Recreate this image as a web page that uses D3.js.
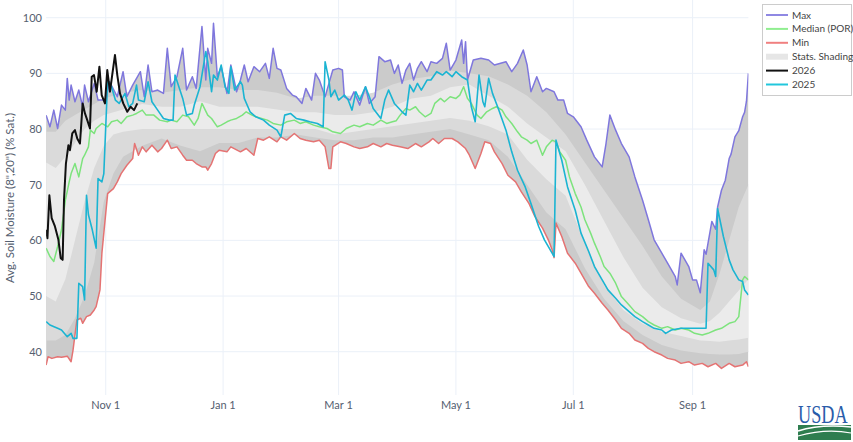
<!DOCTYPE html>
<html>
<head>
<meta charset="utf-8">
<script src="https://cdn.jsdelivr.net/npm/d3@7"></script>
<style>
    body { margin: 0; background: #fff; }
    svg { display: block; font-family: Lato, "Open Sans", sans-serif; }
</style>
</head>
<body>
<script>
// all days count from Oct 1 of the water year (axis drawn on a leap year)
var maxDays = [0,2,4,6,8,10,11,12,13,15,17,19,20,22,25,27,31,33,37,40,42,45,49,51,53,55,58,61,63,65,68,71,73,76,78,81,83,84,86,87,89,91,94,96,99,101,103,105,108,111,114,116,118,120,122,125,128,130,133,135,138,140,142,145,147,149,152,154,155,158,160,163,166,168,171,173,176,179,181,183,185,187,189,191,193,195,198,200,203,206,208,210,213,216,217,218,219,222,226,230,233,239,242,245,248,250,252,255,258,260,264,266,269,271,274,278,281,285,289,291,293,296,299,303,306,310,313,316,320,323,327,328,330,332,334,336,338,340,342,343,346,348,349,351,353,355,356,358,360,362,363,364,365];
var maxVals = [82.5,80.4,83.4,80.1,84.3,83.4,89.1,85.2,87.9,84.9,87.0,84.0,87.9,84.9,88.2,85.2,85.2,88.5,85.8,90.3,85.8,87.9,90.3,85.8,91.5,86.7,87.0,86.4,94.5,87.6,89.4,94.5,87.0,89.4,87.3,98.4,88.8,94.5,91.8,99.0,89.4,91.2,86.4,91.5,86.7,88.8,91.5,88.5,91.2,90.3,91.8,89.1,94.5,90.9,90.6,87.3,86.1,85.8,84.6,87.3,85.2,90.0,88.8,85.8,88.2,90.6,90.9,90.6,85.8,85.2,86.7,84.3,87.6,84.6,85.8,93.0,92.1,92.4,90.0,91.5,88.2,90.6,91.8,88.8,90.9,92.1,90.3,92.1,91.8,92.7,95.4,90.6,92.4,96.0,91.8,95.7,88.8,92.4,92.7,92.4,91.5,92.1,90.3,91.8,94.2,91.5,86.7,89.4,86.7,87.3,86.7,85.2,85.2,82.8,82.2,80.4,78.0,75.0,73.2,77.4,82.5,79.8,77.4,75.0,71.4,67.2,63.7,60.1,57.7,55.9,53.5,52.0,57.7,56.5,55.3,52.9,52.9,50.6,58.3,57.5,63.4,62.0,66.0,69.0,70.8,74.7,75.5,78.6,79.7,82.2,83.0,85.0,90.0];

var minDays = [0,1,3,6,8,11,13,14,16,18,19,21,23,25,26,28,29,31,32,33,35,37,39,42,45,46,48,50,52,55,58,60,63,65,68,71,73,76,78,81,83,84,86,88,90,94,96,101,104,108,110,113,116,120,122,125,129,132,135,139,142,145,147,148,149,153,156,160,163,167,170,174,177,180,184,188,192,195,199,201,204,207,211,214,218,220,223,226,228,231,233,237,240,244,247,251,254,258,261,263,264,265,268,271,275,278,282,285,289,292,296,299,303,306,310,313,316,320,323,327,330,334,337,341,344,348,351,355,358,362,364,365];
var minVals = [37.6,39.1,38.8,39.1,39.0,39.2,38.2,40.3,45.7,46.0,45.1,46.3,46.6,47.5,48.1,51.1,57.7,64.9,68.4,68.7,69.3,70.5,72.0,73.5,74.7,77.4,75.3,76.8,75.9,77.1,75.9,76.5,78.0,76.5,76.8,75.3,74.4,74.4,73.8,73.2,73.2,72.6,73.8,75.6,76.2,75.9,76.8,75.9,76.5,75.3,78.3,78.0,78.6,77.7,78.6,78.0,79.2,78.3,78.0,77.7,78.0,76.8,72.9,72.9,76.8,77.7,77.4,76.8,76.5,76.8,77.4,76.8,77.4,77.1,76.8,76.5,77.4,76.8,77.7,78.3,77.4,78.3,78.3,77.7,76.5,75.3,72.9,75.6,77.7,77.4,75.9,73.8,71.7,70.5,68.7,66.6,64.3,62.2,60.1,58.3,56.9,63.1,60.7,57.7,55.9,54.1,51.7,50.5,48.7,47.5,45.7,44.2,43.3,42.1,41.5,40.6,40.0,39.4,38.8,38.5,37.9,38.2,37.6,37.9,37.3,37.9,37.0,37.9,37.3,37.6,38.2,37.3];

var medDays = [0,2,4,6,8,10,12,13,15,17,19,20,22,23,25,26,29,32,34,37,39,42,45,47,50,52,56,59,63,65,68,71,74,77,79,81,84,86,89,91,94,96,99,102,104,107,109,112,115,118,122,125,129,132,135,139,142,146,149,153,156,160,163,167,170,174,177,180,182,184,187,189,192,194,197,200,202,205,207,210,213,215,217,219,221,224,226,229,232,234,237,239,242,245,247,250,252,255,258,260,263,265,267,270,272,275,278,280,283,285,288,290,293,296,299,303,306,310,313,316,320,323,327,330,334,337,341,344,348,351,355,358,360,362,363,365];
var medVals = [58.6,57.1,56.2,58.9,61.9,67.2,70.5,72.0,73.8,71.4,74.7,75.3,76.8,79.8,79.2,80.1,81.0,80.4,81.3,81.6,81.0,82.2,82.5,82.8,83.4,82.5,82.5,81.6,81.3,81.6,81.3,82.5,82.2,80.7,81.9,84.6,82.5,81.9,80.4,80.7,81.3,81.6,81.9,82.5,83.1,82.5,82.2,81.9,81.6,81.0,80.7,81.3,81.6,81.0,81.3,80.7,80.4,80.1,79.5,79.2,80.1,80.7,80.4,81.0,80.7,81.6,81.0,81.3,81.5,82.5,83.7,83.4,84.0,83.1,82.2,82.8,84.6,85.5,84.9,85.8,85.5,86.1,87.6,85.5,84.6,82.5,81.9,83.1,83.7,84.0,83.4,82.2,81.0,79.5,78.6,78.0,77.4,78.0,75.3,76.8,78.0,77.7,75.9,74.4,71.4,68.4,66.0,63.7,61.3,59.5,57.1,55.3,54.1,52.3,49.9,48.4,47.2,46.3,45.4,44.8,44.2,44.5,43.9,44.2,43.9,43.3,43.0,43.3,43.9,44.2,45.1,45.4,46.3,52.9,53.5,52.9];

var y2025Days = [0,2,6,8,11,13,14,16,17,19,20,21,22,24,26,27,29,30,32,34,36,38,41,43,45,47,48,51,53,55,58,61,64,66,67,69,71,73,76,77,80,83,84,86,87,89,91,93,95,96,98,101,102,103,106,109,113,116,120,122,124,127,130,134,137,141,144,145,147,148,150,152,155,157,159,161,163,166,168,170,174,176,178,181,185,187,189,191,193,195,198,200,203,206,208,211,213,216,219,221,223,225,227,228,230,232,235,239,242,245,249,252,256,259,264,265,268,271,275,278,282,285,289,292,296,299,303,306,310,313,316,320,322,325,330,336,343,344,347,348,349,352,355,357,360,362,363,365];
var y2025Vals = [45.4,44.8,44.2,43.9,42.7,43.3,42.4,42.4,52.3,51.7,49.3,68.1,64.6,61.9,58.6,71.1,70.5,72.0,88.8,87.6,85.2,84.6,86.4,84.0,84.6,87.9,85.2,84.9,88.5,84.9,83.4,81.9,81.6,81.6,89.7,87.6,85.5,82.5,82.8,84.3,87.6,93.9,92.1,86.7,89.7,88.8,91.5,87.6,86.4,91.2,87.0,88.5,87.9,85.5,83.1,82.2,81.6,80.7,79.8,78.6,82.5,82.8,81.9,81.6,81.3,81.0,80.4,92.1,88.8,85.8,87.0,85.2,86.1,85.2,83.4,86.7,85.2,87.6,85.8,83.7,81.9,85.2,87.0,84.6,83.1,82.5,87.9,86.7,88.2,87.0,88.8,88.8,90.3,89.7,90.3,89.4,90.3,89.4,88.8,84.0,81.3,89.7,84.9,84.0,89.1,86.4,83.7,79.8,75.9,72.6,69.6,66.6,62.5,60.1,57.1,78.0,74.4,69.6,65.4,61.3,58.0,55.3,52.9,51.1,49.6,48.4,47.2,46.3,45.4,44.8,44.2,43.9,43.3,43.9,44.2,44.2,44.2,55.9,54.7,53.5,65.7,60.7,56.5,54.7,52.9,52.6,51.1,50.2];

var y2026Days = [0,0.7,1.7,2.9,4.6,6.4,7.6,8.6,9.3,10.3,11.6,12.4,13.6,15,16.2,17.6,19,20.2,21.4,22.8,23.7,24.9,26.3,27.7,28.9,30.6,31.8,33.2,34.6,35.8,37,38.4,40.1,42.2,43.9,45.7,47.4];
var y2026Vals = [61.9,60.4,68.1,64.0,62.5,60.1,56.8,56.5,67.2,73.8,77.1,76.2,79.2,79.8,78.3,77.4,84.6,82.8,81.6,80.1,89.4,89.7,86.7,91.2,86.1,84.6,90.6,86.7,90.3,93.3,89.7,86.4,84.6,83.1,84.0,83.4,84.6];

// percentile shading boundaries
var bandDays = [0,5,10,15,20,25,30,35,40,50,60,70,80,90,100,110,120,130,140,150,160,170,180,190,200,210,220,230,240,250,260,270,280,290,300,310,320,330,340,345,350,355,360,365];
var p90Vals = [79.5,79.5,81.5,82.5,83.5,84.5,85.5,86,86.5,87,86.5,87,87.5,87.5,87,87,86.5,85.5,86,86,86,86.5,88,89,89.5,90.5,90,89.5,88,86,83,79,74,69,64,59,53.5,49.5,47.5,49,54,60,66,70];
var p70Vals = [74,73,75,77.5,80,81.5,82.5,83,83.5,84.5,84,84,85,84,84,84,83.5,83,83,82.5,82.5,83,84,85.5,86,87.5,88,86,84,81,78.5,76,70,63.5,57,51.5,48,46,45,45.5,47,49,51,53];
var p30Vals = [50,49,53,60,67,73,77,79,79.5,80,80,80,80,80,80,80,80,80,80,79,79.5,80,80.5,81,81.5,82,81.5,80.5,79,74.5,71,68,59.5,52,47.5,45,43.6,42.8,42,41.9,41.8,42,42.2,42.5];
var p10Vals = [42,42,43,46,50,56,67,72,75,77,78.3,77,76,77.5,77.5,78.5,78.5,79,78.5,78,78,78.5,78.5,79,79.5,80,79,78,75,70,65,62,55,49.5,45.5,43,41.2,40.2,39.7,39.6,39.5,39.5,39.6,40];

var yTicks = [40, 50, 60, 70, 80, 90, 100];
var legendNames = ["Max", "Median (POR)", "Min", "Stats. Shading", "2026", "2025"];

window.onload = () => {

    var width = 853;
    var height = 442;
    var left = 46.1, right = 748.4, top = 0, bottom = 395;

    var svg = d3.select("body").append("svg")
        .attr("width", width)
        .attr("height", height)

    var start = Date.UTC(1999, 9, 1);
    var dayDate = d => new Date(start + d * 864e5);

    var x = d3.scaleUtc()
        .domain([dayDate(0), dayDate(365)])
        .range([left, right]);
    var y = d3.scaleLinear()
        .domain([40, 100])
        .range([351.7, 17.7]);

    var pts = (days, vals) => days.map((d, i) => [x(dayDate(d)), y(vals[i])]);
    var line = d3.line();
    var band = (uD, uV, lD, lV) => line(pts(uD, uV).concat(pts(lD, lV).reverse())) + "Z";

    svg.append("clipPath").attr("id", "plot")
        .append("rect")
        .attr("x", left).attr("y", top)
        .attr("width", right - left).attr("height", bottom - top);

    // grid
    var xTicks = x.ticks(d3.utcMonth.every(2));
    svg.append("g").selectAll("line").data(xTicks).enter().append("line")
        .attr("x1", d => x(d)).attr("x2", d => x(d))
        .attr("y1", top).attr("y2", bottom)
        .attr("stroke", "#ebf0f8");
    svg.append("g").selectAll("line").data(yTicks).enter().append("line")
        .attr("x1", left).attr("x2", right)
        .attr("y1", d => y(d)).attr("y2", d => y(d))
        .attr("stroke", "#ebf0f8");

    var plot = svg.append("g").attr("clip-path", "url(#plot)");

    // stats shading
    plot.append("path").attr("d", band(maxDays, maxVals, minDays, minVals)).attr("fill", "#cbcbcb");
    plot.append("path").attr("d", band(bandDays, p90Vals, bandDays, p10Vals)).attr("fill", "#dadada");
    plot.append("path").attr("d", band(bandDays, p70Vals, bandDays, p30Vals)).attr("fill", "#ebebeb");

    var series = [
        [maxDays, maxVals, "#7f77dd", 1.5],
        [medDays, medVals, "#7de37d", 1.5],
        [minDays, minVals, "#e57373", 1.5],
        [y2025Days, y2025Vals, "#1bb4d2", 1.6],
        [y2026Days, y2026Vals, "#111111", 2]
    ];
    series.forEach(s => {
        plot.append("path")
            .attr("d", line(pts(s[0], s[1])))
            .attr("fill", "none")
            .attr("stroke", s[2])
            .attr("stroke-width", s[3])
            .attr("stroke-linejoin", "round");
    });

    // axes labels
    svg.append("g").selectAll("text").data(yTicks).enter().append("text")
        .attr("x", 42).attr("y", d => y(d)).attr("dy", "0.35em")
        .attr("text-anchor", "end")
        .attr("font-size", 11).attr("fill", "#556070")
        .text(d => d);
    svg.append("g").selectAll("text").data(xTicks).enter().append("text")
        .attr("x", d => x(d)).attr("y", 409)
        .attr("text-anchor", "middle")
        .attr("font-size", 11).attr("fill", "#556070")
        .text(d3.utcFormat("%b %-d"));
    svg.append("text")
        .attr("transform", "translate(14,198) rotate(-90)")
        .attr("text-anchor", "middle")
        .attr("font-size", 11.5).attr("fill", "#556070")
        .text('Avg. Soil Moisture (8",20") (% Sat.)');

    // legend
    var lg = svg.append("g");
    lg.append("rect")
        .attr("x", 762.5).attr("y", 4.5).attr("width", 89).attr("height", 91)
        .attr("fill", "#fff").attr("stroke", "#cccccc");
    var legendStyle = [["#8f88e3", 2], ["#90ee90", 2], ["#f08080", 2], ["#e6e6e6", 6], ["#111111", 2], ["#22c7dc", 2]];
    legendNames.forEach((name, i) => {
        var ly = 15 + i * 13.9;
        lg.append("line")
            .attr("x1", 766).attr("x2", 788).attr("y1", ly).attr("y2", ly)
            .attr("stroke", legendStyle[i][0]).attr("stroke-width", legendStyle[i][1]);
        lg.append("text")
            .attr("x", 792).attr("y", ly).attr("dy", "0.35em")
            .attr("font-size", 10).attr("fill", "#444")
            .text(name);
    });

    // USDA mark
    var logo = svg.append("g");
    logo.append("text")
        .attr("transform", "translate(798,423) scale(0.7,1)")
        .attr("font-family", "'Liberation Serif', serif")
        .attr("font-size", 26)
        .attr("fill", "#2a5caa")
        .text("USDA");
    logo.append("rect")
        .attr("x", 798).attr("y", 425).attr("width", 53).attr("height", 15)
        .attr("fill", "#2e7d4f");
    logo.append("path")
        .attr("d", "M798,431 Q820,424 851,427")
        .attr("fill", "none").attr("stroke", "#fff").attr("stroke-width", 1.5);
    logo.append("path")
        .attr("d", "M798,436 Q826,428 851,433")
        .attr("fill", "none").attr("stroke", "#fff").attr("stroke-width", 1.2);
}
</script>
</body>
</html>
